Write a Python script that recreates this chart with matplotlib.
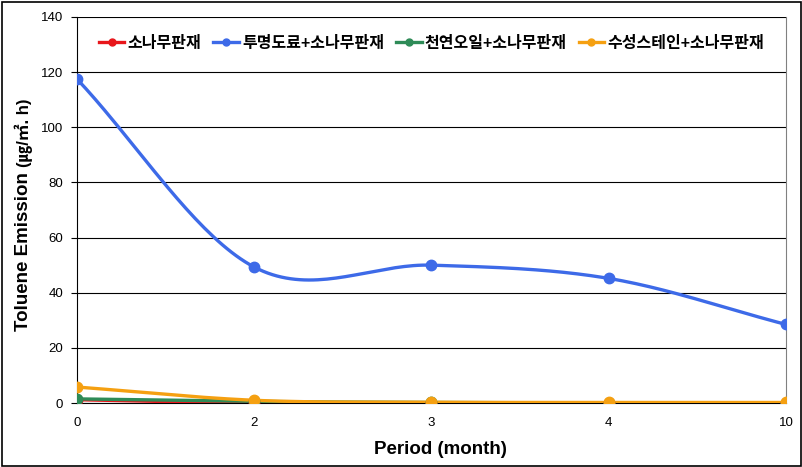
import numpy as np
import matplotlib.pyplot as plt

# data
periods = ['0', '2', '3', '4', '10']
series_names = ['소나무판재', '투명도료+소나무판재', '천연오일+소나무판재', '수성스테인+소나무판재']
pine = [1.2, 0.0, 0.1, 0.1, 0.1]
clear_paint = [117.5, 49.3, 50.0, 45.2, 28.5]
natural_oil = [1.5, 0.6, 0.2, 0.1, 0.1]
water_stain = [5.8, 1.0, 0.3, 0.2, 0.2]
colors = ['#e8161b', '#3d6ae8', '#2e8b57', '#f5a011']

plt.rcParams['font.family'] = ['Liberation Sans', 'Noto Sans CJK KR', 'DejaVu Sans']


def smooth(x, y, n=40):
    # catmull-rom curve through the points (like the "smoothed line" option)
    x = np.asarray(x, float)
    y = np.asarray(y, float)
    px = np.concatenate([[2 * x[0] - x[1]], x, [2 * x[-1] - x[-2]]])
    py = np.concatenate([[2 * y[0] - y[1]], y, [2 * y[-1] - y[-2]]])
    xs, ys = [], []
    t = np.linspace(0, 1, n)
    for i in range(1, len(px) - 2):
        for p, out in ((px, xs), (py, ys)):
            p0, p1, p2, p3 = p[i - 1], p[i], p[i + 1], p[i + 2]
            out.extend(0.5 * (2 * p1 + (-p0 + p2) * t
                              + (2 * p0 - 5 * p1 + 4 * p2 - p3) * t ** 2
                              + (-p0 + 3 * p1 - 3 * p2 + p3) * t ** 3))
    return np.array(xs), np.array(ys)


fig = plt.figure(figsize=(8.03, 4.67), dpi=100)
ax = fig.add_axes([0.0959, 0.137, 0.8829, 0.8266])

x = np.arange(len(periods))
for name, vals, c in zip(series_names, [pine, clear_paint, natural_oil, water_stain], colors):
    sx, sy = smooth(x, vals)
    ax.plot(sx, sy, color=c, lw=2.4, solid_capstyle='round', zorder=3)
    ax.plot(x, vals, 'o', color=c, ms=7.5, zorder=4)
    ax.plot([], [], color=c, lw=2.4, marker='o', ms=5, label=name)

ax.set_xlim(0, 4)
ax.set_ylim(0, 140)
ax.set_yticks(range(0, 141, 20))
ax.set_xticks(x)
ax.set_xticklabels(periods)
ax.grid(axis='y', color='black', lw=0.8)
ax.set_axisbelow(True)
ax.tick_params(axis='x', length=0, pad=10, labelsize=9.5)
ax.tick_params(axis='y', length=4, width=0.8, labelsize=9.5, pad=6)
for s in ['left', 'bottom']:
    ax.spines[s].set_color('black')
ax.spines['top'].set_visible(False)
ax.spines['right'].set_color('#808080')

ax.set_xlabel('Period (month)', fontsize=13.5, fontweight='bold')
ax.xaxis.set_label_coords(0.513, -0.098)

# y label in two parts: big bold name, smaller unit
t1 = fig.text(0.029, (467 - 331) / 467, 'Toluene Emission', rotation=90, ha='center', va='bottom',
              fontsize=13.5, fontweight='bold')
fig.canvas.draw()
bb = t1.get_window_extent()
fig.text(0.029, (bb.y1 + 5) / fig.bbox.height, '(㎍/㎡. h)', rotation=90, ha='center', va='bottom',
         fontsize=12, fontweight='bold', family=['Liberation Sans', 'Noto Sans CJK KR'])

leg = ax.legend(loc='upper center', bbox_to_anchor=(0.5, 0.985), ncol=4, frameon=True,
                fontsize=11.5, handlelength=1.6, columnspacing=0.75, handletextpad=0.2,
                borderpad=0.3, fancybox=False)
leg.get_frame().set_edgecolor('white')
leg.get_frame().set_facecolor('white')
for t in leg.get_texts():
    t.set_fontweight('bold')

# outer border of the chart
fig.patches.append(plt.Rectangle((0.002, 0.003), 0.995, 0.993, transform=fig.transFigure,
                                 fill=False, edgecolor='black', lw=1.2))

fig.savefig('out.png', dpi=100)
